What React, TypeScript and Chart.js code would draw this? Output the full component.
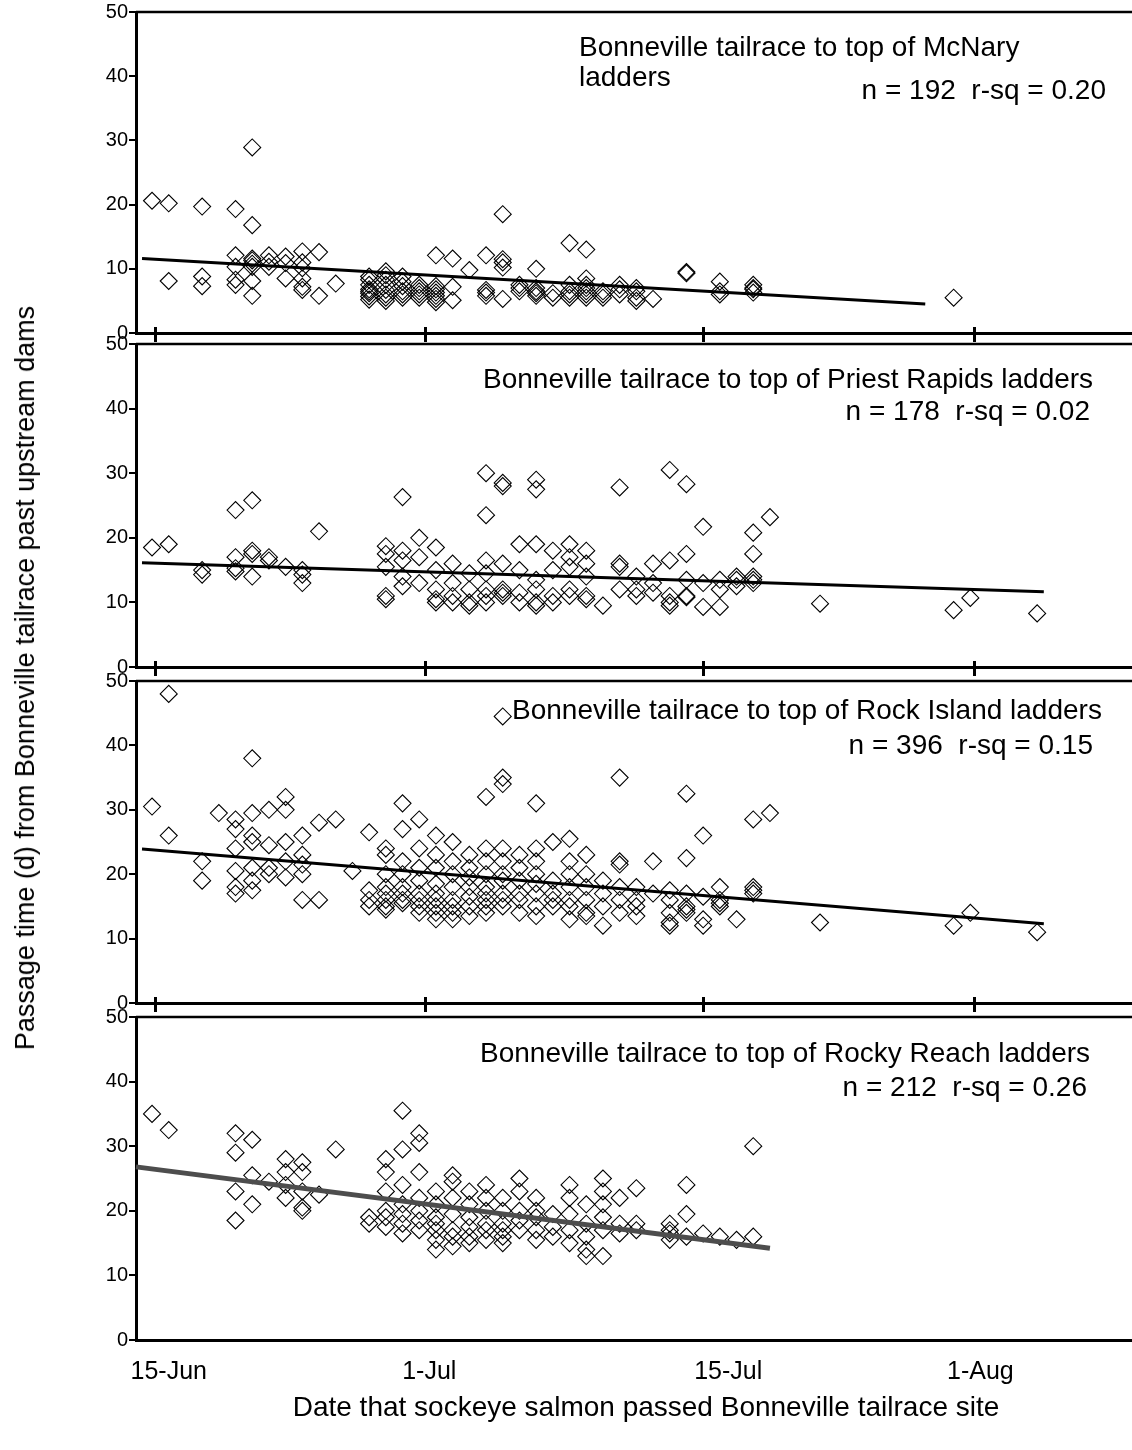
import React, { useEffect, useRef } from 'react';
import { Chart, registerables } from 'chart.js';

Chart.register(...registerables);

const FONT = '"Liberation Sans", Arial, Helvetica, sans-serif';

// ---- axis data ----
const bottomLabels = ['15-Jun', '1-Jul', '15-Jul', '1-Aug'];
const bottomLabelDays = [16.0, 31.6, 49.5, 64.6];
const tickMarkDays = [15.15, 31.35, 48.0, 64.2];
const dayMin = 14.04;
const dayMax = 73.68;
const yTicks = [0, 10, 20, 30, 40, 50];

// ---- series data: [day (days after 31 May), passage times (d)] ----
type Group = [number, number[]];

const mcnary: Group[] = [
  [15, [20.6]],
  [16, [20.2, 8.1]],
  [18, [19.7, 8.8, 7.3]],
  [20, [19.3, 12.1, 10.3, 8.3, 7.5]],
  [21, [28.9, 16.8, 11.6, 11.3, 10.8, 10.3, 8.1, 5.8]],
  [22, [12.1, 11.1, 10.3]],
  [23, [11.9, 10.9, 8.5]],
  [24, [12.7, 11.0, 10.1, 8.5, 7.2, 6.7]],
  [25, [12.6, 5.8]],
  [26, [7.7]],
  [28, [8.8, 8.3, 7.5, 6.8, 6.5, 6.2, 5.7, 5.2]],
  [29, [9.6, 9.0, 8.3, 7.5, 6.7, 6.0, 5.5, 5.0]],
  [30, [8.8, 8.0, 7.3, 6.5, 6.0, 5.5]],
  [31, [7.5, 7.0, 6.5, 6.0, 5.5]],
  [32, [12.1, 7.3, 6.8, 6.3, 5.8, 5.3, 4.8]],
  [33, [11.6, 7.2, 5.1]],
  [34, [9.8]],
  [35, [12.1, 6.7, 6.3, 5.8]],
  [36, [18.5, 11.5, 11.0, 10.2, 5.3]],
  [37, [7.5, 7.0, 6.5]],
  [38, [10.0, 7.0, 6.5, 6.2, 5.8]],
  [39, [6.2, 5.5]],
  [40, [14.0, 7.5, 6.5, 6.0, 5.5]],
  [41, [13.0, 8.5, 7.5, 7.0, 6.5, 6.0, 5.5]],
  [42, [6.5, 6.0, 5.5]],
  [43, [7.5, 6.8, 6.0]],
  [44, [7.0, 6.5, 5.5, 5.0]],
  [45, [5.3]],
  [47, [9.5, 9.3]],
  [49, [8.0, 6.5, 6.0]],
  [51, [7.5, 7.0, 6.8, 6.3]],
  [63, [5.5]],
];
const mcnaryTrend = [
  [14.4, 11.6],
  [61.3, 4.5],
];

const priestRapids: Group[] = [
  [15, [18.5]],
  [16, [19.0]],
  [18, [15.0, 14.3]],
  [20, [24.3, 17.0, 15.3, 14.8]],
  [21, [25.8, 18.0, 17.5, 14.0]],
  [22, [17.0, 16.5]],
  [23, [15.5]],
  [24, [15.0, 14.3, 13.0]],
  [25, [21.0]],
  [29, [18.7, 17.5, 15.5, 11.0, 10.5]],
  [30, [26.3, 18.0, 16.5, 14.0, 12.5]],
  [31, [20.0, 17.0, 13.0]],
  [32, [18.5, 15.0, 12.0, 10.5, 10.0]],
  [33, [16.0, 13.0, 11.0, 10.0]],
  [34, [14.5, 12.0, 10.0, 9.5]],
  [35, [30.0, 23.5, 16.5, 14.5, 12.0, 11.0, 10.0]],
  [36, [28.5, 28.0, 16.0, 12.0, 11.5, 11.0]],
  [37, [19.0, 15.0, 11.5, 10.0]],
  [38, [29.0, 27.5, 19.0, 13.5, 12.0, 10.0, 9.5]],
  [39, [18.0, 15.0, 11.0, 10.0]],
  [40, [19.0, 17.0, 15.5, 12.0, 11.0]],
  [41, [18.0, 16.0, 14.0, 11.0, 10.5]],
  [42, [9.5]],
  [43, [27.8, 16.0, 15.5, 12.0]],
  [44, [14.0, 12.0, 11.0]],
  [45, [16.0, 13.0, 11.5]],
  [46, [30.5, 16.5, 11.0, 10.0, 9.5]],
  [47, [28.3, 17.5, 13.5, 11.0, 10.8]],
  [48, [21.7, 13.0, 9.3]],
  [49, [13.5, 12.0, 9.3]],
  [50, [14.0, 13.5, 12.5]],
  [51, [20.8, 17.5, 14.0, 13.5, 13.0]],
  [52, [23.2]],
  [55, [9.8]],
  [63, [8.8]],
  [64, [10.7]],
  [68, [8.3]],
];
const priestTrend = [
  [14.4, 16.15],
  [68.4, 11.66],
];

const rockIsland: Group[] = [
  [15, [30.5]],
  [16, [48.0, 26.0]],
  [18, [22.0, 19.0]],
  [19, [29.5]],
  [20, [28.5, 27.0, 24.0, 20.5, 18.0, 17.0]],
  [21, [38.0, 29.5, 26.0, 25.0, 21.0, 19.0, 17.5]],
  [22, [30.0, 24.5, 21.0, 20.0]],
  [23, [32.0, 30.0, 25.0, 22.0, 19.5]],
  [24, [26.0, 23.0, 21.5, 20.0, 16.0]],
  [25, [28.0, 16.0]],
  [26, [28.5]],
  [27, [20.5]],
  [28, [26.5, 17.5, 16.0, 15.0]],
  [29, [24.0, 23.0, 20.0, 18.0, 17.0, 16.0, 15.0, 14.5]],
  [30, [31.0, 27.0, 22.0, 20.0, 18.0, 17.0, 16.0, 15.5]],
  [31, [28.5, 24.0, 21.0, 19.0, 17.0, 16.0, 15.0, 14.0]],
  [32, [26.0, 23.0, 21.0, 18.5, 17.0, 16.0, 15.0, 14.0, 13.0]],
  [33, [25.0, 22.0, 20.0, 18.0, 16.0, 15.0, 14.0, 13.0]],
  [34, [23.0, 21.0, 19.5, 18.0, 16.5, 15.0, 13.5]],
  [35, [32.0, 24.0, 22.0, 20.0, 18.0, 17.0, 16.0, 15.0, 14.0]],
  [36, [44.5, 35.0, 34.0, 24.0, 22.0, 20.0, 19.0, 17.0, 16.0, 15.0]],
  [37, [23.0, 21.0, 19.0, 17.0, 16.0, 14.0]],
  [38, [31.0, 24.0, 22.0, 20.0, 18.5, 17.0, 15.0, 13.5]],
  [39, [25.0, 19.0, 17.0, 16.0, 15.0]],
  [40, [25.5, 22.0, 20.0, 18.0, 16.0, 15.0, 13.0]],
  [41, [23.0, 20.0, 18.0, 16.0, 14.0, 13.5]],
  [42, [19.0, 17.0, 15.0, 12.0]],
  [43, [35.0, 22.0, 21.5, 18.0, 16.0, 14.0]],
  [44, [18.0, 16.0, 15.0, 13.5]],
  [45, [22.0, 17.0]],
  [46, [17.5, 16.0, 14.0, 12.5, 12.0]],
  [47, [32.5, 22.5, 17.0, 15.0, 14.5, 14.0]],
  [48, [26.0, 16.5, 13.0, 12.0]],
  [49, [18.0, 16.0, 15.5, 15.0]],
  [50, [13.0]],
  [51, [28.5, 18.0, 17.5, 17.0]],
  [52, [29.5]],
  [55, [12.5]],
  [63, [12.0]],
  [64, [14.0]],
  [68, [11.0]],
];
const rockTrend = [
  [14.4, 23.9],
  [68.4, 12.3],
];

const rockyReach: Group[] = [
  [15, [35.0]],
  [16, [32.5]],
  [20, [32.0, 29.0, 23.0, 18.5]],
  [21, [31.0, 25.5, 21.0]],
  [22, [24.5]],
  [23, [28.0, 26.0, 24.0, 22.0]],
  [24, [27.5, 26.0, 23.0, 20.5, 20.0]],
  [25, [22.5]],
  [26, [29.5]],
  [28, [19.0, 18.0]],
  [29, [28.0, 26.0, 23.0, 20.0, 19.0, 17.5]],
  [30, [35.5, 29.5, 24.0, 21.0, 19.5, 18.0, 16.5]],
  [31, [32.0, 30.5, 26.0, 22.0, 20.0, 18.5, 17.0]],
  [32, [23.0, 21.0, 19.0, 18.0, 17.0, 15.5, 14.0]],
  [33, [25.5, 24.5, 22.0, 19.5, 17.0, 16.0, 14.5]],
  [34, [23.0, 21.0, 19.0, 17.5, 16.0, 15.0]],
  [35, [24.0, 22.0, 20.0, 18.0, 17.0, 15.5]],
  [36, [22.0, 20.0, 18.0, 17.0, 16.0, 15.0]],
  [37, [25.0, 23.0, 20.0, 18.5, 17.0]],
  [38, [22.0, 20.0, 19.0, 17.0, 15.5]],
  [39, [19.5, 17.5, 16.0]],
  [40, [24.0, 22.0, 19.5, 17.0, 15.0]],
  [41, [21.0, 18.0, 16.0, 14.0, 13.0]],
  [42, [25.0, 23.0, 21.0, 19.0, 17.0, 13.0]],
  [43, [22.0, 18.0, 16.5]],
  [44, [23.5, 18.0, 17.0]],
  [46, [18.0, 17.0, 16.5, 15.5]],
  [47, [24.0, 19.5, 16.0]],
  [48, [16.5]],
  [49, [16.0]],
  [50, [15.5]],
  [51, [30.0, 16.0]],
];
const rockyTrend = [
  [14.04, 26.8],
  [52.0, 14.2],
];

// ---- plugin: panel top border and crossing tick marks ----
const panelFrame = {
  id: 'panelFrame',
  afterDraw(chart: any, _args: any, opts: any) {
    const { ctx, chartArea, scales } = chart;
    ctx.save();
    ctx.strokeStyle = '#000';
    ctx.lineWidth = 2.5;
    ctx.beginPath();
    ctx.moveTo(chartArea.left, chartArea.top);
    ctx.lineTo(chartArea.right, chartArea.top);
    ctx.stroke();
    const days: number[] = opts && opts.tickDays ? opts.tickDays : [];
    ctx.lineWidth = 3;
    for (const d of days) {
      const x = Math.round(scales.x.getPixelForValue(d)) + 0.5;
      ctx.beginPath();
      ctx.moveTo(x, chartArea.bottom - 6);
      ctx.lineTo(x, chartArea.bottom + 9);
      ctx.stroke();
    }
    ctx.restore();
  },
};

function toPoints(groups: Group[]) {
  const pts: { x: number; y: number }[] = [];
  groups.forEach(([d, vals]) => vals.forEach((v) => pts.push({ x: d, y: v })));
  return pts;
}

interface PanelProps {
  groups: Group[];
  trend: number[][];
  trendColor: string;
  trendWidth: number;
  isBottom: boolean;
  top: number;
  bottom: number;
}

const PAD_TOP = 20;

function Panel({ groups, trend, trendColor, trendWidth, isBottom, top, bottom }: PanelProps) {
  const ref = useRef<HTMLCanvasElement>(null);
  const xAxisH = isBottom ? 60 : 14;
  const plotH = bottom - top;
  const canvasH = plotH + PAD_TOP + xAxisH;

  useEffect(() => {
    const chart = new Chart(ref.current as HTMLCanvasElement, {
      type: 'scatter',
      data: {
        datasets: [
          {
            type: 'scatter',
            data: toPoints(groups),
            pointStyle: 'rectRot',
            pointRadius: 8.5,
            pointHoverRadius: 8.5,
            borderColor: '#000',
            backgroundColor: 'rgba(0,0,0,0)',
            borderWidth: 1.1,
            clip: false,
            order: 2,
          } as any,
          {
            type: 'line',
            data: trend.map(([x, y]) => ({ x, y })),
            borderColor: trendColor,
            borderWidth: trendWidth,
            pointRadius: 0,
            fill: false,
            tension: 0,
            clip: false,
            order: 1,
          } as any,
        ],
      },
      options: {
        responsive: false,
        animation: false,
        events: [],
        layout: { autoPadding: false, padding: { top: PAD_TOP, left: 0, right: 0, bottom: 0 } },
        plugins: {
          legend: { display: false },
          tooltip: { enabled: false },
          panelFrame: { tickDays: isBottom ? [] : tickMarkDays },
        } as any,
        scales: {
          x: {
            type: 'linear',
            position: 'bottom',
            min: dayMin,
            max: dayMax,
            afterFit: (s: any) => {
              s.height = xAxisH;
            },
            afterBuildTicks: (s: any) => {
              s.ticks = isBottom ? bottomLabelDays.map((v) => ({ value: v })) : [];
            },
            ticks: {
              display: isBottom,
              autoSkip: false,
              maxRotation: 0,
              padding: 9,
              color: '#000',
              font: { family: FONT, size: 25 },
              callback: (_v: any, i: number) => bottomLabels[i],
            },
            grid: { display: false },
            border: { display: true, width: 3, color: '#000' },
          },
          y: {
            type: 'linear',
            min: 0,
            max: 50,
            afterFit: (s: any) => {
              s.width = 136;
            },
            afterBuildTicks: (s: any) => {
              s.ticks = yTicks.map((v) => ({ value: v }));
            },
            ticks: { color: '#000', padding: 1, font: { family: FONT, size: 20 } },
            grid: {
              display: true,
              drawOnChartArea: false,
              drawTicks: true,
              tickLength: 7,
              lineWidth: 2,
              color: '#000',
            },
            border: { display: true, width: 3, color: '#000' },
          },
        },
      } as any,
      plugins: [panelFrame as any],
    });
    return () => chart.destroy();
  }, []);

  return (
    <canvas
      ref={ref}
      width={1132}
      height={canvasH}
      style={{ position: 'absolute', left: 0, top: top - PAD_TOP, width: 1132, height: canvasH }}
    />
  );
}

const txt: React.CSSProperties = {
  position: 'absolute',
  font: `28px ${FONT}`,
  lineHeight: '28px',
  whiteSpace: 'pre',
  color: '#000',
};

export default function App() {
  return (
    <div style={{ position: 'absolute', left: 0, top: 0, width: 1132, height: 1450, background: '#fff', overflow: 'hidden' }}>
      <Panel groups={mcnary} trend={mcnaryTrend} trendColor="#000" trendWidth={3} isBottom={false} top={12} bottom={333} />
      <Panel groups={priestRapids} trend={priestTrend} trendColor="#000" trendWidth={3} isBottom={false} top={344} bottom={667} />
      <Panel groups={rockIsland} trend={rockTrend} trendColor="#000" trendWidth={3} isBottom={false} top={681} bottom={1003} />
      <Panel groups={rockyReach} trend={rockyTrend} trendColor="#4d4d4d" trendWidth={5} isBottom={true} top={1017} bottom={1340} />

      <div style={{ ...txt, left: 579, top: 33 }}>Bonneville tailrace to top of McNary</div>
      <div style={{ ...txt, left: 579, top: 63 }}>ladders</div>
      <div style={{ ...txt, right: 26, top: 76 }}>{'n = 192  r-sq = 0.20'}</div>

      <div style={{ ...txt, left: 483, top: 365 }}>Bonneville tailrace to top of Priest Rapids ladders</div>
      <div style={{ ...txt, right: 42, top: 397 }}>{'n = 178  r-sq = 0.02'}</div>

      <div style={{ ...txt, left: 512, top: 696 }}>Bonneville tailrace to top of Rock Island ladders</div>
      <div style={{ ...txt, right: 39, top: 731 }}>{'n = 396  r-sq = 0.15'}</div>

      <div style={{ ...txt, left: 480, top: 1039 }}>Bonneville tailrace to top of Rocky Reach ladders</div>
      <div style={{ ...txt, right: 45, top: 1073 }}>{'n = 212  r-sq = 0.26'}</div>

      <div
        style={{
          ...txt,
          fontSize: 27,
          left: 25,
          top: 678,
          transform: 'translate(-50%, -50%) rotate(-90deg)',
        }}
      >
        Passage time (d) from Bonneville tailrace past upstream dams
      </div>
      <div style={{ ...txt, left: 646, top: 1407, transform: 'translate(-50%, -50%)' }}>
        Date that sockeye salmon passed Bonneville tailrace site
      </div>
    </div>
  );
}
